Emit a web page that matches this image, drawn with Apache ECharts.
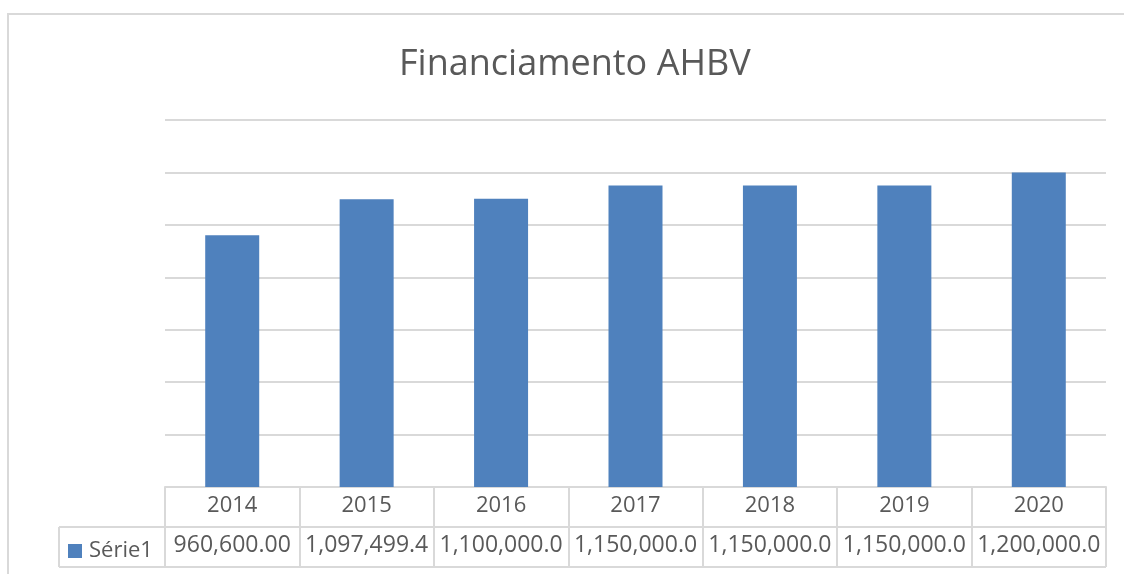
<!DOCTYPE html>
<html>
<head>
<meta charset="utf-8">
<script src="https://cdn.jsdelivr.net/npm/echarts@6/dist/echarts.min.js"></script>
<style>
  html, body { margin: 0; padding: 0; background: #fff; }
  #chart { width: 1124px; height: 574px; }
</style>
</head>
<body>
<div id="chart"></div>
<script>
var years = ['2014', '2015', '2016', '2017', '2018', '2019', '2020']
var serie1 = [960600.00, 1097499.40, 1100000.00, 1150000.00, 1150000.00, 1150000.00, 1200000.00]
var seriesName = 'Série1'

var FONT = '"Open Sans", "Noto Sans", sans-serif'
var TXT = '#595959'
var LINE = '#d9d9d9'

// grid box (plot area) - table sits under it
var gLeft = 165, gRight = 18, gTop = 120, gBottom = 87
var rowH = 40
var axisY = 574 - gBottom
var tableLeft = 59
var tableRight = 1124 - gRight

function fmt(v) {
  return v.toLocaleString('en-US', { minimumFractionDigits: 2, maximumFractionDigits: 2 })
}

var myChart = echarts.init(document.getElementById('chart'))
var option = {
  animation: false,
  textStyle: { fontFamily: FONT },
  title: {
    text: 'Financiamento AHBV',
    left: 394,
    top: 42,
    textStyle: { fontFamily: FONT, fontSize: 36, fontWeight: 'normal', color: TXT }
  },
  legend: {
    data: [seriesName],
    left: 63,
    top: 535,
    icon: 'rect',
    itemWidth: 14,
    itemHeight: 14,
    textStyle: { fontFamily: FONT, fontSize: 22, color: TXT, padding: [0, 0, 0, 2] }
  },
  grid: { left: gLeft, right: gRight, top: gTop, bottom: gBottom },
  xAxis: [
    {
      type: 'category',
      data: years,
      position: 'bottom',
      axisLine: { lineStyle: { color: LINE, width: 2 } },
      axisTick: { show: true, length: rowH * 2, lineStyle: { color: LINE, width: 2 } },
      axisLabel: { interval: 0, margin: 8, fontFamily: FONT, fontSize: 22, color: TXT }
    },
    {
      // second table row: the values
      type: 'category',
      data: years,
      position: 'bottom',
      axisLine: { show: false },
      axisTick: { show: false },
      axisLabel: {
        interval: 0,
        hideOverlap: false,
        margin: rowH + 7,
        fontFamily: FONT,
        fontSize: 23,
        color: TXT,
        width: 131,
        overflow: 'truncate',
        ellipsis: '',
        formatter: function (val, idx) { return fmt(serie1[idx]) }
      }
    }
  ],
  yAxis: {
    type: 'value',
    min: 0,
    max: 1400000,
    interval: 200000,
    axisLabel: { show: false },
    axisLine: { show: false },
    axisTick: { show: false },
    splitLine: { lineStyle: { color: LINE, width: 2 } }
  },
  series: [
    {
      name: seriesName,
      type: 'bar',
      data: serie1,
      barWidth: 54,
      itemStyle: { color: '#4f81bd' }
    }
  ],
  graphic: [
    {
      type: 'rect',
      silent: true,
      shape: { x: 8, y: 14, width: 1130, height: 600 },
      style: { fill: 'none', stroke: LINE, lineWidth: 2 }
    },
    {
      type: 'line',
      silent: true,
      shape: { x1: tableLeft, y1: axisY + rowH, x2: tableRight, y2: axisY + rowH },
      style: { stroke: LINE, lineWidth: 2 }
    },
    {
      type: 'line',
      silent: true,
      shape: { x1: tableLeft, y1: axisY + rowH * 2, x2: tableRight, y2: axisY + rowH * 2 },
      style: { stroke: LINE, lineWidth: 2 }
    },
    {
      type: 'line',
      silent: true,
      shape: { x1: tableLeft, y1: axisY + rowH, x2: tableLeft, y2: axisY + rowH * 2 },
      style: { stroke: LINE, lineWidth: 2 }
    }
  ]
}
myChart.setOption(option)
</script>
</body>
</html>
